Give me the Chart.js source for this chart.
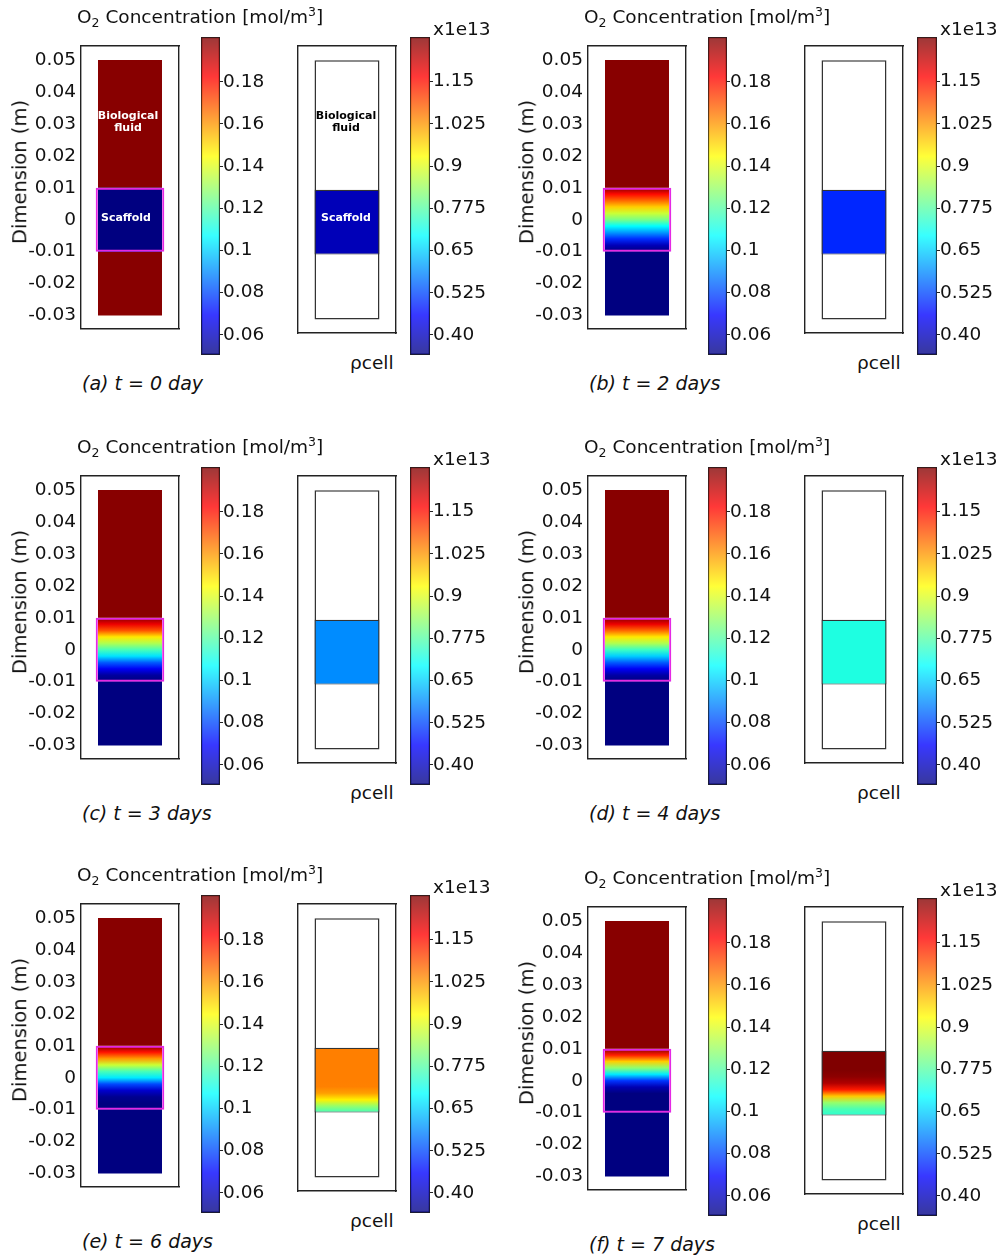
<!DOCTYPE html>
<html>
<head>
<meta charset="utf-8">
<script src="https://cdn.jsdelivr.net/npm/chart.js@4.4.0/dist/chart.umd.min.js"></script>
<style>
  body { margin: 0; background: #fff; width: 1003px; height: 1257px; position: relative; overflow: hidden;
         font-family: "DejaVu Sans", sans-serif; color: #111; }
  .panel { position: absolute; width: 500px; height: 400px; }
  .panel canvas { position: absolute; }
  .txt { position: absolute; white-space: nowrap; line-height: 1; transform: translateY(-50%); }
  .title { font-size: 18.5px; }
  .title sub, .title sup { font-size: 12.5px; line-height: 0; }
  .cap { font-size: 19px; font-style: italic; }
  .lab { font-size: 18.5px; }
  .dim { font-size: 19.5px; transform: translate(-50%, -50%) rotate(-90deg); }
  .note { font-size: 11px; font-weight: bold; text-align: center; line-height: 12px; transform: translate(-50%, -50%); }
</style>
</head>
<body>
<script>
// panels, top-left to bottom-right
const captions = ['(a) t = 0 day', '(b) t = 2 days', '(c) t = 3 days', '(d) t = 4 days', '(e) t = 6 days', '(f) t = 7 days'];
const panelLeft = [0, 507, 0, 507, 0, 507];
const panelTop = [0, 0, 430, 430, 858, 861];

// domain axis (m)
const yTicks = [-0.03, -0.02, -0.01, 0, 0.01, 0.02, 0.03, 0.04, 0.05];
const yTickLabels = ['-0.03', '-0.02', '-0.01', '0', '0.01', '0.02', '0.03', '0.04', '0.05'];
const frameRange = [-0.0342, 0.0544];
const domain = [-0.03, 0.05];
const upperFluid = [0.01, 0.05];
const scaffold = [-0.01, 0.01];
const lowerFluid = [-0.03, -0.01];

// colour bars
const o2Range = [0.0505, 0.2012];
const o2Ticks = [0.06, 0.08, 0.1, 0.12, 0.14, 0.16, 0.18];
const o2TickLabels = ['0.06', '0.08', '0.1', '0.12', '0.14', '0.16', '0.18'];
const rhoRange = [0.341, 1.282];
const rhoTicks = [0.40, 0.525, 0.65, 0.775, 0.9, 1.025, 1.15];
const rhoTickLabels = ['0.40', '0.525', '0.65', '0.775', '0.9', '1.025', '1.15'];

// O2 concentration (mol/m3) in the fluid above / below the scaffold
const o2Upper = [0.2, 0.2, 0.2, 0.2, 0.2, 0.2];
const o2Lower = [0.2, 0.05, 0.05, 0.05, 0.05, 0.05];

// profiles through the scaffold, sampled at these heights (top to bottom)
const scaffoldHeights = [0.01, 0.008, 0.006, 0.004, 0.002, 0, -0.002, -0.004, -0.006, -0.008, -0.01];
const o2Scaffold = [
  [0.05, 0.05, 0.05, 0.05, 0.05, 0.05, 0.05, 0.05, 0.05, 0.05, 0.05],
  [0.2, 0.181, 0.167, 0.152, 0.137, 0.125, 0.107, 0.092, 0.076, 0.059, 0.05],
  [0.2, 0.185, 0.17, 0.148, 0.133, 0.118, 0.103, 0.083, 0.068, 0.055, 0.05],
  [0.2, 0.185, 0.167, 0.148, 0.133, 0.116, 0.1, 0.083, 0.068, 0.056, 0.05],
  [0.2, 0.18, 0.16, 0.137, 0.118, 0.104, 0.08, 0.062, 0.053, 0.05, 0.05],
  [0.2, 0.178, 0.152, 0.128, 0.104, 0.077, 0.058, 0.05, 0.05, 0.05, 0.05]
];
// cell density (x1e13)
const rhoScaffold = [
  [0.393, 0.393, 0.393, 0.393, 0.393, 0.393, 0.393, 0.393, 0.393, 0.393, 0.393],
  [0.494, 0.494, 0.494, 0.494, 0.494, 0.494, 0.494, 0.494, 0.494, 0.494, 0.494],
  [0.588, 0.588, 0.588, 0.588, 0.588, 0.588, 0.588, 0.588, 0.588, 0.588, 0.588],
  [0.722, 0.722, 0.722, 0.722, 0.722, 0.722, 0.722, 0.722, 0.722, 0.722, 0.722],
  [1.047, 1.047, 1.047, 1.047, 1.047, 1.047, 1.045, 1.018, 0.943, 0.83, 0.754],
  [1.29, 1.29, 1.29, 1.29, 1.27, 1.236, 1.141, 0.98, 0.83, 0.763, 0.735]
];

Chart.defaults.font.family = '"DejaVu Sans", sans-serif';
Chart.defaults.font.size = 18.5;
Chart.defaults.color = '#111';
Chart.defaults.animation = false;
Chart.defaults.plugins.legend.display = false;
Chart.defaults.plugins.tooltip.enabled = false;

// jet colormap
function jetColor(v, range, alpha) {
  const t = Math.max(0, Math.min(1, (v - range[0]) / (range[1] - range[0])));
  const c = k => Math.round(255 * Math.max(0, Math.min(1, 1.5 - Math.abs(4 * t - k))));
  return 'rgba(' + c(3) + ',' + c(2) + ',' + c(1) + ',' + alpha + ')';
}

// vertical gradient through the y scale, heights given top to bottom
function fieldFill(heights, values, range, alpha) {
  return (ctx) => {
    const chart = ctx.chart;
    if (!chart.chartArea) return 'rgba(0,0,0,0)';
    const ys = chart.scales.y;
    const top = ys.getPixelForValue(heights[0]);
    const bot = ys.getPixelForValue(heights[heights.length - 1]);
    const g = chart.ctx.createLinearGradient(0, top, 0, bot);
    heights.forEach((h, i) => {
      g.addColorStop((ys.getPixelForValue(h) - top) / (bot - top), jetColor(values[i], range, alpha));
    });
    return g;
  };
}

function colorbarFill(range) {
  const stops = [1, 7 / 8, 5 / 8, 3 / 8, 1 / 8, 0].map(f => range[0] + f * (range[1] - range[0]));
  return fieldFill(stops, stops, range, 0.78);
}

function bar(data, fill, width, extra) {
  return Object.assign({
    data: [data], backgroundColor: fill, borderWidth: 0, borderSkipped: false,
    barPercentage: width, categoryPercentage: 1, grouped: false
  }, extra || {});
}

function edge(pos, type) {
  return {
    position: pos, type: type, display: true,
    ticks: { display: false }, grid: { display: false, drawTicks: false },
    border: { display: true, color: '#222', width: 1.4 },
    afterFit: s => { if (s.isHorizontal()) s.height = 0; else s.width = 0; }
  };
}

function setTicks(values) {
  return s => { s.ticks = values.map(v => ({ value: v })); };
}

function canvasAt(panel, x, y, w, h) {
  const c = document.createElement('canvas');
  c.width = w; c.height = h;
  c.style.left = x + 'px'; c.style.top = y + 'px';
  c.style.width = w + 'px'; c.style.height = h + 'px';
  panel.appendChild(c);
  return c;
}

function text(panel, cls, html, x, y, color) {
  const d = document.createElement('div');
  d.className = 'txt ' + cls;
  d.innerHTML = html;
  d.style.left = x + 'px'; d.style.top = y + 'px';
  if (color) d.style.color = color;
  panel.appendChild(d);
}

function domainChart(canvas, datasets, showAxis) {
  const y = showAxis ? {
    type: 'linear', position: 'left', min: frameRange[0], max: frameRange[1],
    afterBuildTicks: setTicks(yTicks),
    ticks: { padding: 5, callback: (v, i) => yTickLabels[i] },
    grid: { display: false, drawTicks: false },
    border: { display: true, color: '#222', width: 1.4 },
    afterFit: s => { s.width = 81; }
  } : Object.assign(edge('left', 'linear'), { min: frameRange[0], max: frameRange[1] });
  return new Chart(canvas, {
    type: 'bar',
    data: { labels: ['domain'], datasets: datasets },
    options: {
      responsive: false, devicePixelRatio: 1,
      layout: { padding: showAxis ? { left: 0, right: 7, top: 46, bottom: 12 } : { left: 6, right: 6, top: 46, bottom: 12 } },
      scales: { x: edge('bottom', 'category'), x2: edge('top', 'category'), y: y, y2: edge('right', 'linear') }
    }
  });
}

function colorbarChart(canvas, range, ticks, labels, axisWidth) {
  return new Chart(canvas, {
    type: 'bar',
    data: { labels: ['cb'], datasets: [bar(range, colorbarFill(range), 1, { borderWidth: 1, borderColor: '#222' })] },
    options: {
      responsive: false, devicePixelRatio: 1,
      layout: { padding: { left: 6, right: 0, top: 37, bottom: 11 } },
      scales: {
        x: { display: false },
        y: {
          position: 'right', min: range[0], max: range[1],
          afterBuildTicks: setTicks(ticks),
          ticks: { padding: 0, callback: (v, i) => labels[i] },
          grid: { drawOnChartArea: false, drawTicks: true, tickLength: 3, color: '#222' },
          border: { display: false },
          afterFit: s => { s.width = axisWidth; }
        }
      }
    }
  });
}

captions.forEach((cap, i) => {
  const p = document.createElement('div');
  p.className = 'panel';
  p.style.left = panelLeft[i] + 'px';
  p.style.top = panelTop[i] + 'px';
  document.body.appendChild(p);

  // O2 concentration field
  domainChart(canvasAt(p, 0, 0, 186, 345), [
    bar(scaffold, 'rgba(0,0,0,0)', 0.70, { borderWidth: 2, borderColor: 'rgb(228,40,228)' }),
    bar(scaffold, fieldFill(scaffoldHeights, o2Scaffold[i], o2Range, 1), 0.653),
    bar(upperFluid, fieldFill([0.05, 0.01], [o2Upper[i], o2Upper[i]], o2Range, 1), 0.653),
    bar(lowerFluid, fieldFill([-0.01, -0.03], [o2Lower[i], o2Lower[i]], o2Range, 1), 0.653)
  ], true);
  colorbarChart(canvasAt(p, 195, 0, 80, 366), o2Range, o2Ticks, o2TickLabels, 55);

  // cell density field
  domainChart(canvasAt(p, 292, 0, 110, 345), [
    bar(scaffold, fieldFill(scaffoldHeights, rhoScaffold[i], rhoRange, 1), 0.663, { borderWidth: 1.2, borderColor: '#333' }),
    bar(domain, '#fff', 0.663, { borderWidth: 1.5, borderColor: '#333' })
  ], false);
  colorbarChart(canvasAt(p, 404, 0, 100, 366), rhoRange, rhoTicks, rhoTickLabels, 74);

  text(p, 'title', 'O<sub>2</sub> Concentration [mol/m<sup>3</sup>]', 77, 17);
  text(p, 'dim', 'Dimension (m)', 20, 172);
  text(p, 'lab', 'x1e13', 433, 29);
  text(p, 'lab', '\u03c1cell', 350, 363);
  text(p, 'cap', cap, 82, 383);

  if (i === 0) {
    text(p, 'note', 'Biological<br>fluid', 128, 122, '#fff');
    text(p, 'note', 'Scaffold', 126, 218, '#fff');
    text(p, 'note', 'Biological<br>fluid', 346, 122, '#000');
    text(p, 'note', 'Scaffold', 346, 218, '#fff');
  }
});
</script>
</body>
</html>
